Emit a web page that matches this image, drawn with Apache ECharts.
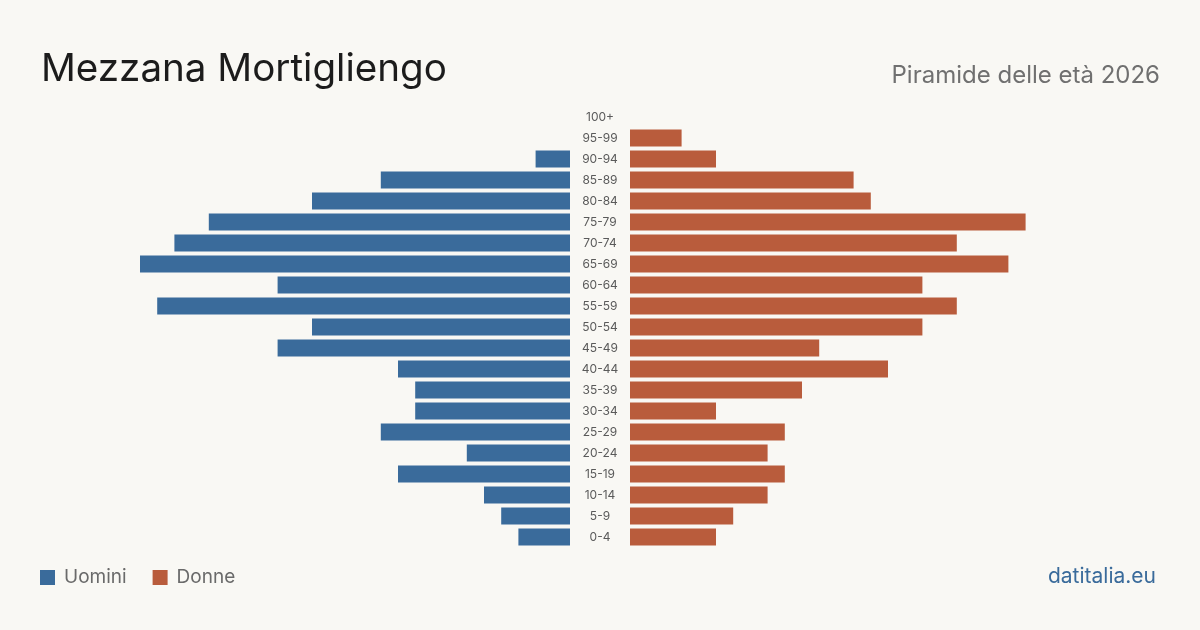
<!DOCTYPE html>
<html>
<head>
<meta charset="utf-8">
<script src="https://cdn.jsdelivr.net/npm/echarts@6/dist/echarts.min.js"></script>
<style>
  html, body { margin: 0; padding: 0; background: #f9f8f4; }
  #chart { width: 1200px; height: 630px; }
</style>
</head>
<body>
<div id="chart"></div>
<script>
(function () {
    'use strict';

    var ageGroups = ['0-4', '5-9', '10-14', '15-19', '20-24', '25-29', '30-34', '35-39', '40-44', '45-49',
        '50-54', '55-59', '60-64', '65-69', '70-74', '75-79', '80-84', '85-89', '90-94', '95-99', '100+'];
    var uomini = [3, 4, 5, 10, 6, 11, 9, 9, 10, 17, 15, 24, 17, 25, 23, 21, 15, 11, 2, 0, 0];
    var donne = [5, 6, 8, 9, 8, 9, 5, 10, 15, 11, 17, 19, 17, 22, 19, 23, 14, 13, 5, 3, 0];

    var BLUE = '#3a6b9b';
    var ORANGE = '#b95c3c';
    var FONT = 'Inter, "Noto Sans", sans-serif';

    var myChart = echarts.init(document.getElementById('chart'));

    var option = {
        backgroundColor: '#f9f8f4',
        animation: false,
        textStyle: { fontFamily: FONT },
        title: [
            {
                text: 'Mezzana Mortigliengo',
                left: 36, top: 45,
                textStyle: { fontFamily: FONT, fontSize: 38.6, fontWeight: 'normal', color: '#1c1c1c' }
            },
            {
                text: 'Piramide delle età 2026',
                right: 35, top: 59,
                textStyle: { fontFamily: FONT, fontSize: 24, fontWeight: 'normal', color: '#707070' }
            },
            {
                text: 'datitalia.eu',
                right: 39, top: 561,
                textStyle: { fontFamily: FONT, fontSize: 21, fontWeight: 'normal', color: '#3a6b9b' }
            }
        ],
        legend: {
            left: 40, top: 568, padding: 0,
            itemWidth: 15, itemHeight: 15, itemGap: 26,
            icon: 'rect',
            textStyle: { fontFamily: FONT, fontSize: 19, color: '#6a6a6a', padding: [0, 0, 0, 4] },
            data: ['Uomini', 'Donne']
        },
        grid: [
            { left: 140, width: 430, top: 106.5, height: 441 },
            { left: 630, width: 430, top: 106.5, height: 441 }
        ],
        xAxis: [
            { gridIndex: 0, type: 'value', min: 0, max: 25, inverse: true, show: false },
            { gridIndex: 1, type: 'value', min: 0, max: 25, show: false }
        ],
        yAxis: [
            {
                gridIndex: 0, type: 'category', data: ageGroups, position: 'right',
                axisLine: { show: false }, axisTick: { show: false },
                axisLabel: {
                    margin: 30, align: 'center',
                    fontFamily: FONT, fontSize: 12, color: '#5a5a5a'
                }
            },
            {
                gridIndex: 1, type: 'category', data: ageGroups,
                axisLine: { show: false }, axisTick: { show: false }, axisLabel: { show: false }
            }
        ],
        series: [
            {
                name: 'Uomini', type: 'bar',
                xAxisIndex: 0, yAxisIndex: 0,
                barWidth: 17,
                itemStyle: { color: BLUE },
                data: uomini
            },
            {
                name: 'Donne', type: 'bar',
                xAxisIndex: 1, yAxisIndex: 1,
                barWidth: 17,
                itemStyle: { color: ORANGE },
                data: donne
            }
        ]
    };

    myChart.setOption(option);
})();
</script>
</body>
</html>
